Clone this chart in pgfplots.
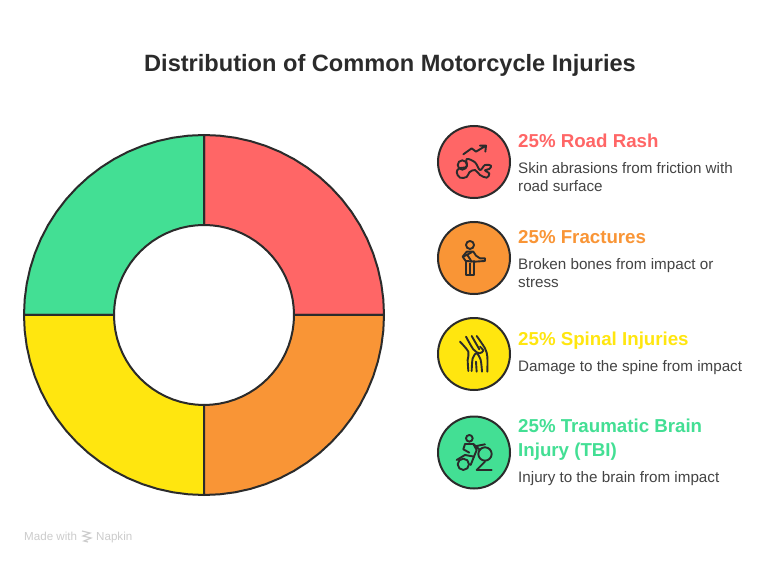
\documentclass[border=0pt]{standalone}
\usepackage{fontspec}
\setmainfont{Liberation Sans}
\usepackage{pgfplots}
\usepgfplotslibrary{polar}
\pgfplotsset{compat=1.18}
\definecolor{ink}{HTML}{2B2B2B}
\definecolor{body}{HTML}{444444}
\definecolor{cred}{HTML}{FF6666}
\definecolor{corange}{HTML}{F99536}
\definecolor{cyellow}{HTML}{FFE60F}
\definecolor{cgreen}{HTML}{43DF94}
\newcommand{\headfont}{\fontsize{18.7}{23}\selectfont\bfseries}
\newcommand{\bodyfont}{\fontsize{15.2}{18}\selectfont}
\begin{document}
\begin{tikzpicture}[x=1pt,y=1pt]
\path[use as bounding box,fill=white] (0,0) rectangle (767,564);
% legend discs and all text in a pixel-scale axis
\begin{axis}[at={(0,0)},anchor=south west,scale only axis,width=767pt,height=564pt,
  xmin=0,xmax=767,ymin=0,ymax=564,y dir=reverse,hide axis,clip=false]
\addplot[only marks,mark=*,mark size=36pt,mark options={fill=cred,draw=ink,line width=2pt}] coordinates {(474,162)};
\addplot[only marks,mark=*,mark size=36pt,mark options={fill=corange,draw=ink,line width=2pt}] coordinates {(474,258)};
\addplot[only marks,mark=*,mark size=36pt,mark options={fill=cyellow,draw=ink,line width=2pt}] coordinates {(474,354)};
\addplot[only marks,mark=*,mark size=36pt,mark options={fill=cgreen,draw=ink,line width=2pt}] coordinates {(474,452.5)};
\node[anchor=base,text=ink,font=\fontsize{23.6}{30}\selectfont\bfseries] at (axis cs:390,71.5) {Distribution of Common Motorcycle Injuries};
\node[anchor=base west,inner sep=0,text=cred,font=\headfont] at (axis cs:518,147.5) {25\% Road Rash};
\node[anchor=base west,inner sep=0,text=body,font=\bodyfont] at (axis cs:518,173) {Skin abrasions from friction with};
\node[anchor=base west,inner sep=0,text=body,font=\bodyfont] at (axis cs:518,191) {road surface};
\node[anchor=base west,inner sep=0,text=corange,font=\headfont] at (axis cs:518,243.5) {25\% Fractures};
\node[anchor=base west,inner sep=0,text=body,font=\bodyfont] at (axis cs:518,269) {Broken bones from impact or};
\node[anchor=base west,inner sep=0,text=body,font=\bodyfont] at (axis cs:518,287) {stress};
\node[anchor=base west,inner sep=0,text=cyellow,font=\headfont] at (axis cs:518,345.5) {25\% Spinal Injuries};
\node[anchor=base west,inner sep=0,text=body,font=\bodyfont] at (axis cs:518,371) {Damage to the spine from impact};
\node[anchor=base west,inner sep=0,text=cgreen,font=\headfont] at (axis cs:518,432.5) {25\% Traumatic Brain};
\node[anchor=base west,inner sep=0,text=cgreen,font=\headfont] at (axis cs:518,456.5) {Injury (TBI)};
\node[anchor=base west,inner sep=0,text=body,font=\bodyfont] at (axis cs:518,482) {Injury to the brain from impact};
\node[anchor=base west,inner sep=0,text=black!20,font=\fontsize{11.6}{13}\selectfont] at (axis cs:24,540) {Made with};
\node[anchor=base west,inner sep=0,text=black!20,font=\fontsize{11.6}{13}\selectfont] at (axis cs:96,540) {Napkin};
\end{axis}
% donut: four equal 25% shares
\begin{polaraxis}[at={(204pt,249pt)},anchor=center,scale only axis,width=360pt,height=360pt,
  xmin=0,xmax=360,ymin=0,ymax=180,hide axis,clip=false]
\addplot[no markers,fill=cred,draw=ink,line width=2pt,line join=round] coordinates {
(0,180)(5,180)(10,180)(15,180)(20,180)(25,180)(30,180)(35,180)(40,180)(45,180)(50,180)(55,180)(60,180)(65,180)(70,180)(75,180)(80,180)(85,180)(90,180)
(90,90)(85,90)(80,90)(75,90)(70,90)(65,90)(60,90)(55,90)(50,90)(45,90)(40,90)(35,90)(30,90)(25,90)(20,90)(15,90)(10,90)(5,90)(0,90)(0,180)} -- cycle;
\addplot[no markers,fill=cgreen,draw=ink,line width=2pt,line join=round] coordinates {
(90,180)(95,180)(100,180)(105,180)(110,180)(115,180)(120,180)(125,180)(130,180)(135,180)(140,180)(145,180)(150,180)(155,180)(160,180)(165,180)(170,180)(175,180)(180,180)
(180,90)(175,90)(170,90)(165,90)(160,90)(155,90)(150,90)(145,90)(140,90)(135,90)(130,90)(125,90)(120,90)(115,90)(110,90)(105,90)(100,90)(95,90)(90,90)(90,180)} -- cycle;
\addplot[no markers,fill=cyellow,draw=ink,line width=2pt,line join=round] coordinates {
(180,180)(185,180)(190,180)(195,180)(200,180)(205,180)(210,180)(215,180)(220,180)(225,180)(230,180)(235,180)(240,180)(245,180)(250,180)(255,180)(260,180)(265,180)(270,180)
(270,90)(265,90)(260,90)(255,90)(250,90)(245,90)(240,90)(235,90)(230,90)(225,90)(220,90)(215,90)(210,90)(205,90)(200,90)(195,90)(190,90)(185,90)(180,90)(180,180)} -- cycle;
\addplot[no markers,fill=corange,draw=ink,line width=2pt,line join=round] coordinates {
(270,180)(275,180)(280,180)(285,180)(290,180)(295,180)(300,180)(305,180)(310,180)(315,180)(320,180)(325,180)(330,180)(335,180)(340,180)(345,180)(350,180)(355,180)(360,180)
(360,90)(355,90)(350,90)(345,90)(340,90)(335,90)(330,90)(325,90)(320,90)(315,90)(310,90)(305,90)(300,90)(295,90)(290,90)(285,90)(280,90)(275,90)(270,90)(270,180)} -- cycle;
\end{polaraxis}
% icons (drawn in crop coordinates: 3 units = 1 px)
\begin{scope}[shift={(430,449)},x=0.3333pt,y=-0.3333pt,draw=ink,line width=1.9pt,line cap=round,line join=round]
 \draw (100,118)--(125,100)--(138,110)--(168,92) (150,92)--(168,92)--(166,110);
 \draw (97,150) circle[radius=14];
 \draw plot[smooth cycle,tension=0.6] coordinates {(110,132)(135,142)(150,165)(165,150)(183,152)(178,162)(165,166)(178,176)(170,188)(150,180)(135,165)(118,172)(110,186)(90,188)(80,172)(88,160)(110,155)};
\end{scope}
\begin{scope}[shift={(430,449)},x=0.3333pt,y=-0.3333pt,draw=ink,line width=1.9pt,line cap=round,line join=round]
 \draw (120,390) circle[radius=12];
 \draw (107,438)--(107,480)--(132,480)--(132,438) (120,445)--(120,480);
 \draw (107,438)--(98,425)--(110,410)--(130,410)--(138,422)--(150,430)--(165,430)--(165,438)--(135,440)--(107,438);
 \draw (100,425)--(125,412) (112,420)--(125,440);
\end{scope}
\begin{scope}[shift={(430,254)},x=0.3333pt,y=-0.3333pt,draw=ink,line width=1.9pt,line cap=round,line join=round]
 \draw plot[smooth,tension=0.5] coordinates {(90,95)(115,125)(113,150)(115,183)};
 \draw plot[smooth,tension=0.5] coordinates {(108,80)(130,118)(148,130)(160,122)(150,110)};
 \draw plot[smooth,tension=0.5] coordinates {(125,78)(148,118)};
 \draw plot[smooth,tension=0.5] coordinates {(140,78)(165,115)(172,140)(172,185)};
 \draw plot[smooth,tension=0.5] coordinates {(125,183)(128,145)(140,130)(152,150)(156,185)};
 \draw (140,185)--(138,155);
\end{scope}
\begin{scope}[shift={(430,254)},x=0.3333pt,y=-0.3333pt,draw=ink,line width=1.9pt,line cap=round,line join=round]
 \draw (118,385) circle[radius=10];
 \draw (100,463) circle[radius=17];
 \draw (165,432) circle[radius=20];
 \draw (80,450)--(105,435)--(132,440)--(140,420)--(130,402)--(105,402)--(100,418)--(118,428);
 \draw (130,402)--(150,420) (140,408)--(165,403);
 \draw (132,440)--(122,465);
 \draw (185,480)--(140,480)--(165,455);
\end{scope}
\begin{scope}[shift={(0,564)},x=1pt,y=-1pt,draw=black!20,line width=1.2pt]
 \draw (82,531)--(90,533)--(83,536)--(91,538)--(84,541)--(88,542);
\end{scope}
\end{tikzpicture}
\end{document}
